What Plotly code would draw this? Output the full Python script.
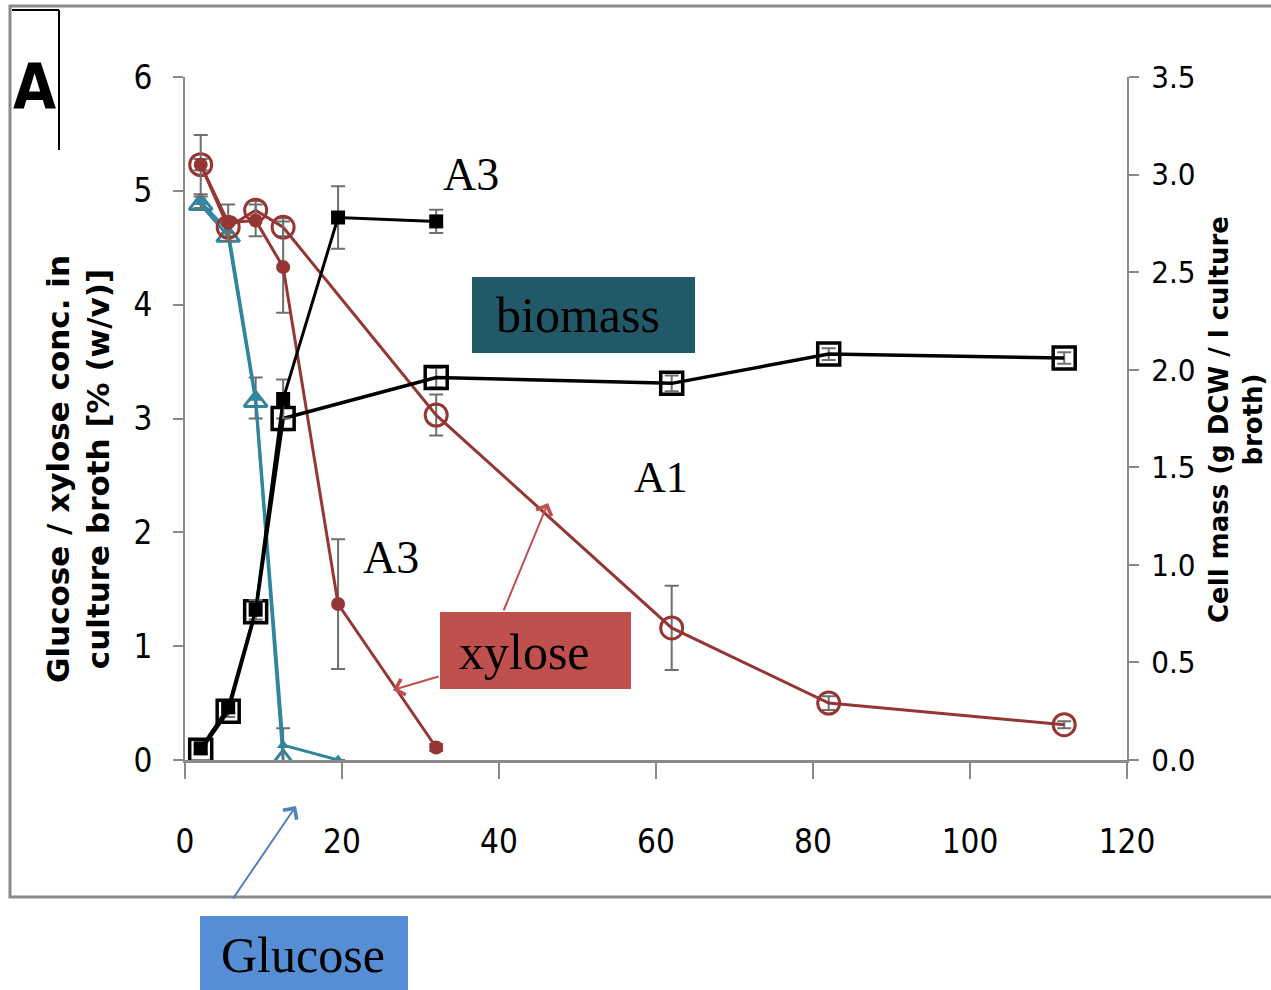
import plotly.graph_objects as go

# ---------------- data ----------------
t_a3 = [2, 5.5, 9, 12.5, 19.5, 32]
t_a1 = [2, 5.5, 9, 12.5, 32, 62, 82, 112]
t_glc_a3 = [2, 5.5, 9, 12.5, 19.5]
t_glc_a1 = [2, 5.5, 9, 12.5]

glucose_a3 = [4.9, 4.65, 3.18, 0.13, 0.0]
glucose_a3_err = [0.05, 0.05, 0.18, 0.15, 0.0]
glucose_a1 = [4.88, 4.6, 3.15, 0.0]

xylose_a3 = [5.23, 4.72, 4.74, 4.33, 1.37, 0.11]
xylose_a3_err = [0.26, 0.16, 0.14, 0.4, 0.57, 0.03]
xylose_a1 = [5.23, 4.68, 4.83, 4.68, 3.03, 1.16, 0.5, 0.31]
xylose_a1_err = [0.05, 0.05, 0.08, 0.08, 0.18, 0.37, 0.06, 0.03]

biomass_a3 = [0.06, 0.27, 0.77, 1.85, 2.78, 2.76]
biomass_a3_err = [0.02, 0.03, 0.05, 0.1, 0.16, 0.06]
biomass_a1 = [0.05, 0.25, 0.76, 1.75, 1.96, 1.93, 2.08, 2.06]
biomass_a1_err = [0.02, 0.03, 0.05, 0.06, 0.05, 0.04, 0.03, 0.03]

x_ticks = [0, 20, 40, 60, 80, 100, 120]
y_left_ticks = [0, 1, 2, 3, 4, 5, 6]
y_right_ticks = [0.0, 0.5, 1.0, 1.5, 2.0, 2.5, 3.0, 3.5]

# ---------------- styles ----------------
RED = "#963634"
TEAL = "#31859C"
GRAY_AX = "#8a8a8a"
ERR = "#6f6f6f"
NARROW = "Liberation Sans Narrow, DejaVu Sans Condensed, Roboto, sans-serif"
TICKFONT = dict(family=NARROW, size=33, color="black")
SERIF = "Liberation Serif, DejaVu Serif, serif"

W, H = 1271, 990
L, R, T, B = 185, 1127, 77, 760


def px(x):
    return (x - L) / (R - L)


def py(y):
    return (B - y) / (B - T)


def errbar(vals):
    return dict(type="data", array=vals, visible=True, color=ERR, thickness=2, width=7)


fig = go.Figure()

# glucose
fig.add_trace(go.Scatter(x=t_glc_a1, y=glucose_a1, mode="lines+markers",
                         line=dict(color=TEAL, width=3),
                         marker=dict(symbol="triangle-up-open", size=20, color=TEAL, line=dict(width=3, color=TEAL)),
                         yaxis="y", showlegend=False))
fig.add_trace(go.Scatter(x=t_glc_a3, y=glucose_a3, mode="lines+markers",
                         line=dict(color=TEAL, width=3),
                         marker=dict(symbol="triangle-up", size=11, color=TEAL),
                         error_y=errbar(glucose_a3_err),
                         yaxis="y", showlegend=False))
# xylose
fig.add_trace(go.Scatter(x=t_a1, y=xylose_a1, mode="lines+markers",
                         line=dict(color=RED, width=3),
                         marker=dict(symbol="circle-open", size=22, color=RED, line=dict(width=3, color=RED)),
                         error_y=errbar(xylose_a1_err),
                         yaxis="y", showlegend=False))
fig.add_trace(go.Scatter(x=t_a3, y=xylose_a3, mode="lines+markers",
                         line=dict(color=RED, width=3),
                         marker=dict(symbol="circle", size=14, color=RED),
                         error_y=errbar(xylose_a3_err),
                         yaxis="y", showlegend=False))
# biomass
fig.add_trace(go.Scatter(x=t_a1, y=biomass_a1, mode="lines+markers",
                         line=dict(color="black", width=3.5),
                         marker=dict(symbol="square-open", size=22, color="black", line=dict(width=3.5, color="black")),
                         error_y=errbar(biomass_a1_err),
                         yaxis="y2", showlegend=False))
fig.add_trace(go.Scatter(x=t_a3, y=biomass_a3, mode="lines+markers",
                         line=dict(color="black", width=3),
                         marker=dict(symbol="square", size=14, color="black"),
                         error_y=errbar(biomass_a3_err),
                         yaxis="y2", showlegend=False))

shapes = [
    # outer gray frame
    dict(type="rect", xref="paper", yref="paper", x0=px(10), x1=px(1290), y0=py(897), y1=py(6),
         line=dict(color=GRAY_AX, width=3), fillcolor="rgba(0,0,0,0)", layer="below"),
    # "A" corner lines
    dict(type="line", xref="paper", yref="paper", x0=px(12), x1=px(59), y0=py(10), y1=py(10),
         line=dict(color="black", width=2)),
    dict(type="line", xref="paper", yref="paper", x0=px(59), x1=px(59), y0=py(10), y1=py(150),
         line=dict(color="black", width=2)),
    # label boxes
    dict(type="rect", xref="paper", yref="paper", x0=px(472), x1=px(695), y0=py(353), y1=py(277),
         line=dict(width=0), fillcolor="#215968"),
    dict(type="rect", xref="paper", yref="paper", x0=px(440), x1=px(631), y0=py(689), y1=py(612),
         line=dict(width=0), fillcolor="#C0504D"),
    dict(type="rect", xref="paper", yref="paper", x0=px(200), x1=px(408), y0=py(990), y1=py(916),
         line=dict(width=0), fillcolor="#558ED5"),
]


def txt(text, x, y, size, family=SERIF, **kw):
    return dict(text=text, xref="paper", yref="paper", x=px(x), y=py(y), showarrow=False,
                xanchor="center", yanchor="middle", font=dict(family=family, size=size, color="black"), **kw)


def arrow(x0, y0, x1, y1, color):
    return dict(text="", xref="paper", yref="paper", x=px(x1), y=py(y1), ax=x0 - x1, ay=y0 - y1,
                showarrow=True, arrowhead=4, arrowsize=1.6, arrowwidth=2, arrowcolor=color)


annotations = [
    txt("<b>A</b>", 34, 86, 62, family=NARROW),
    txt("A3", 471, 175, 46),
    txt("A3", 391, 557, 46),
    txt("A1", 661, 477, 44),
    txt("biomass", 578, 315, 50),
    txt("xylose", 524, 652, 50),
    txt("Glucose", 303, 955, 50),
    txt("<b>Glucose / xylose conc. in<br>culture broth [% (w/v)]</b>", 78, 469, 31,
        family="DejaVu Sans, Verdana, sans-serif", textangle=-90),
    txt("<b>Cell mass (g DCW / l culture<br>broth)</b>", 1236, 420, 26,
        family="DejaVu Sans, Verdana, sans-serif", textangle=-90),
    arrow(503, 612, 548, 503, "#C0504D"),
    arrow(440, 676, 393, 690, "#C0504D"),
    arrow(232, 900, 296, 806, "#4F81BD"),
]

fig.update_layout(
    width=W, height=H,
    margin=dict(l=L, r=W - R, t=T, b=H - B, pad=0),
    paper_bgcolor="white", plot_bgcolor="white",
    showlegend=False,
    xaxis=dict(range=[0, 120], tickvals=x_ticks, ticks="outside", ticklen=16, tickwidth=2, tickcolor=GRAY_AX,
               showline=True, linecolor=GRAY_AX, linewidth=3, showgrid=False, zeroline=False,
               tickfont=TICKFONT, ticklabelstandoff=34),
    yaxis=dict(range=[0, 6], tickvals=y_left_ticks, ticks="outside", ticklen=10, tickwidth=2, tickcolor=GRAY_AX,
               showline=True, linecolor=GRAY_AX, linewidth=2, showgrid=False, zeroline=False,
               tickfont=TICKFONT, ticklabelstandoff=14),
    yaxis2=dict(range=[0, 3.5], tickvals=y_right_ticks, tickformat=".1f", overlaying="y", side="right",
                ticks="outside", ticklen=10, tickwidth=2, tickcolor=GRAY_AX,
                showline=True, linecolor=GRAY_AX, linewidth=2, showgrid=False, zeroline=False,
                tickfont=dict(family=NARROW, size=31, color="black"), ticklabelstandoff=6),
    shapes=shapes,
    annotations=annotations,
)

fig.write_html("out.html", config={"displayModeBar": False},
               post_script="document.body.style.margin='0';")
